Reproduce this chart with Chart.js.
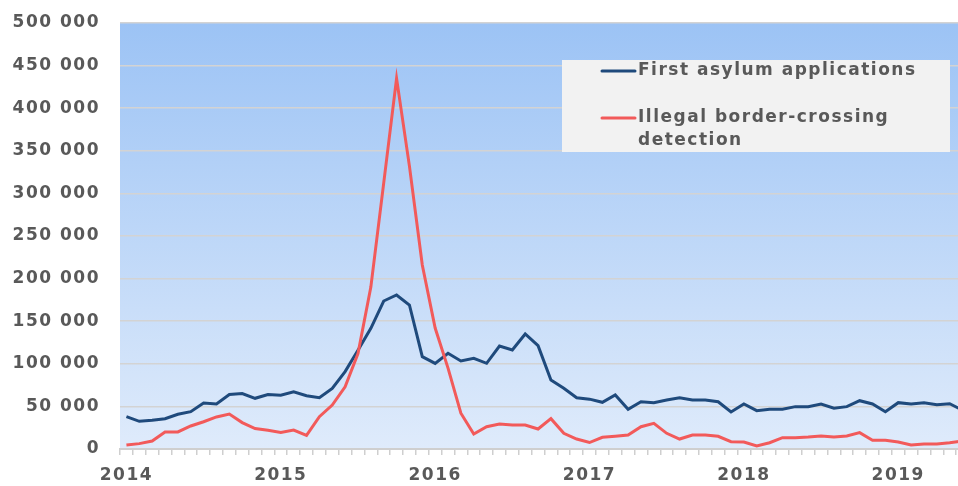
<!DOCTYPE html>
<html lang="en">
<head>
  <meta charset="UTF-8">
  <title>First asylum applications vs illegal border-crossing detections</title>
  <script src="https://cdn.jsdelivr.net/npm/chart.js"></script>
  <style>
    html, body { margin: 0; padding: 0; background: #fff; overflow: hidden; }
    #wrap { width: 970px; height: 486px; }
  </style>
</head>
<body>
  <div id="wrap">
    <canvas id="asylumChart" width="970" height="486"></canvas>
  </div>

  <script>
    // monthly values, Jan 2014 - Jun 2019
    const YEARS = ['2014', '2015', '2016', '2017', '2018', '2019'];
    const MONTHS = ['01', '02', '03', '04', '05', '06', '07', '08', '09', '10', '11', '12'];
    const LAST_MONTH_2019 = 6;

    const asylum = [
      38000, 32500, 33700, 35600, 40700, 43800, 54000, 52800, 64000, 65000, 59500, 64000,
      63000, 67000, 62600, 60200, 71200, 90800, 116000, 141600, 173700, 180800, 169000, 108400,
      100500, 112300, 103300, 106400, 100600, 120900, 116200, 135000, 121300, 81000, 71200, 60200,
      58500, 54800, 63400, 46600, 55500, 54400, 57500, 60200, 57500, 57500, 55500, 43400,
      52800, 45000, 46600, 46600, 49700, 49700, 52800, 47800, 49700, 56700, 52800, 43800,
      54400, 52800, 54400, 52000, 53200, 45500
    ];
    const borderCrossing = [
      4700, 6300, 9400, 20000, 20000, 27000, 32000, 37600, 41000, 31000, 24000, 22000,
      19500, 22300, 16000, 38000, 51600, 73000, 112000, 190000, 312000, 435000, 332000, 216000,
      142000, 95000, 42000, 17600, 26200, 29300, 28200, 28200, 23500, 35600, 18400, 11700,
      7600, 13700, 14900, 16400, 26200, 30100, 18400, 11700, 16400, 16400, 14900, 8600,
      8200, 3500, 7400, 13300, 13300, 14100, 15300, 14100, 15300, 19200, 10200, 10200,
      8200, 4700, 5900, 5900, 7400, 9500
    ];
    const seriesNames = [
      ['First asylum applications'],
      ['Illegal border-crossing', 'detection']
    ];

    const months = [];
    YEARS.forEach((y, yi) => {
      const n = yi === YEARS.length - 1 ? LAST_MONTH_2019 : 12;
      for (let m = 0; m < n; m++) months.push(y + '-' + MONTHS[m]);
    });

    const textGrey = '#595959';
    const fontFamily = '"DejaVu Sans", Verdana, sans-serif';
    const tickFont = { family: fontFamily, size: 17, weight: 'bold' };

    // blue gradient behind the plot (also widens the lettering a little)
    const plotBackground = {
      id: 'plotBackground',
      beforeDraw(chart) {
        const { ctx, chartArea: a } = chart;
        ctx.letterSpacing = '1.5px';
        const g = ctx.createLinearGradient(0, a.top, 0, a.bottom);
        g.addColorStop(0, 'rgb(156, 195, 245)');
        g.addColorStop(1, 'rgb(223, 235, 251)');
        ctx.save();
        ctx.fillStyle = g;
        ctx.fillRect(a.left, a.top, a.right - a.left, a.bottom - a.top);
        ctx.restore();
      }
    };

    // grey legend box inside the plot
    const boxLegend = {
      id: 'boxLegend',
      afterDraw(chart) {
        const ctx = chart.ctx;
        ctx.save();
        ctx.fillStyle = '#f2f2f2';
        ctx.fillRect(562, 60, 388, 92);
        ctx.font = 'bold 17px ' + fontFamily;
        ctx.letterSpacing = '1.5px';
        ctx.textBaseline = 'middle';
        const rows = [71, 118];
        chart.data.datasets.forEach((ds, i) => {
          const y = rows[i];
          ctx.strokeStyle = ds.borderColor;
          ctx.lineWidth = 3;
          ctx.lineCap = 'round';
          ctx.beginPath();
          ctx.moveTo(602, y);
          ctx.lineTo(635, y);
          ctx.stroke();
          ctx.fillStyle = textGrey;
          seriesNames[i].forEach((line, k) => ctx.fillText(line, 638, y + k * 23));
        });
        ctx.restore();
      }
    };

    const ctx = document.getElementById('asylumChart').getContext('2d');
    const asylumChart = new Chart(ctx, {
      type: 'line',
      data: {
        labels: months,
        datasets: [
          {
            label: seriesNames[0].join(' '),
            data: asylum,
            borderColor: '#1f4a7c',
            borderWidth: 3,
            pointRadius: 0,
            tension: 0,
            fill: false,
            order: 1
          },
          {
            label: seriesNames[1].join(' '),
            data: borderCrossing,
            borderColor: '#f25a5a',
            borderWidth: 3,
            pointRadius: 0,
            tension: 0,
            fill: false,
            order: 0
          }
        ]
      },
      options: {
        responsive: false,
        animation: false,
        layout: { padding: { top: 23, right: 1, left: 0, bottom: 0 } },
        plugins: {
          legend: { display: false },
          tooltip: { enabled: false }
        },
        scales: {
          x: {
            offset: true,
            grid: {
              offset: true,
              drawOnChartArea: false,
              tickLength: 6,
              color: '#cfcfcf',
              lineWidth: 1.5
            },
            border: { color: '#cfcfcf', width: 2 },
            ticks: {
              autoSkip: false,
              maxRotation: 0,
              padding: 10,
              color: textGrey,
              font: tickFont,
              callback: (v, i) => (i % 12 === 0 ? YEARS[i / 12] : '')
            },
            afterFit: s => {
              s.height = 37;
              s.paddingLeft = 0;
              s.paddingRight = 0;
            }
          },
          y: {
            min: 0,
            max: 500000,
            grid: { color: '#d3d3d3', lineWidth: 1.5, drawTicks: false },
            border: { display: false },
            ticks: {
              stepSize: 50000,
              padding: 20,
              color: textGrey,
              font: tickFont,
              callback: v => String(v).replace(/\B(?=(\d{3})+(?!\d))/g, ' ')
            },
            afterFit: s => {
              s.width = 120;
              s.paddingTop = 0;
              s.paddingBottom = 0;
            }
          }
        }
      },
      plugins: [plotBackground, boxLegend]
    });
  </script>
</body>
</html>
